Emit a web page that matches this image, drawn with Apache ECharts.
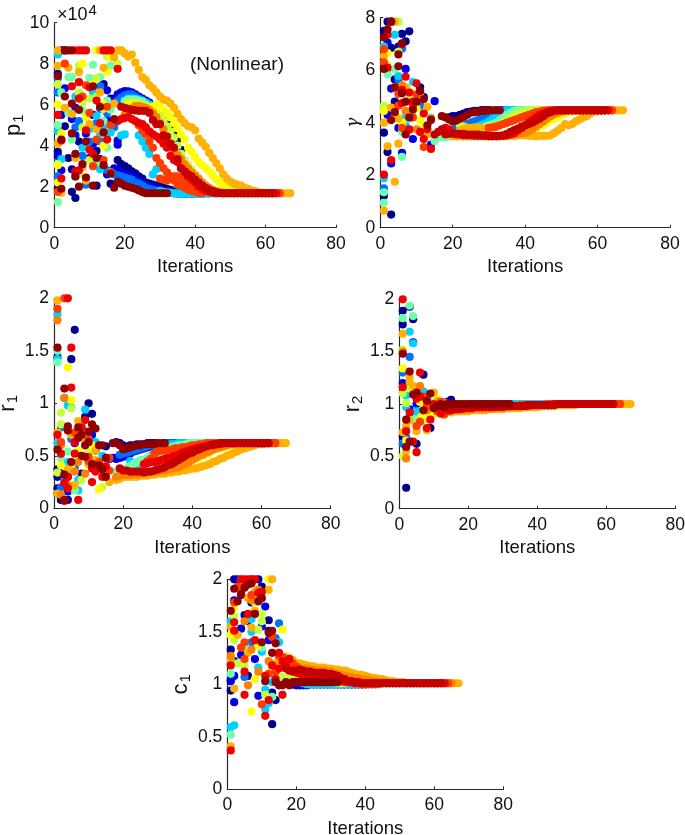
<!DOCTYPE html>
<html>
<head>
<meta charset="utf-8">
<title>Iterations</title>
<style>
html, body { margin: 0; padding: 0; background: #fff; }
#chart { width: 685px; height: 835px; }
</style>
<script src="https://cdn.jsdelivr.net/npm/echarts@6/dist/echarts.min.js"></script>
</head>
<body>
<div id="chart"></div>
<script>
// jet colours, index 11 (darkest run) is drawn on top of index 12
const jetColors = ['#00008f', '#0000e6', '#0070ff', '#00d0ff', '#70ffa8', '#c4ff3c', '#ffff00', '#ffb000', '#ff8000', '#ff3c00', '#ee0000', '#900000', '#c40000']
const xTicks = [0, 20, 40, 60, 80]

// p1: tracks are [colour, first iteration, values], points are [colour, iteration, value]
const p1Tracks = [
    [0, 18, [3.3, 3.1, 3.0, 2.9, 2.75, 2.65, 2.5, 2.4, 2.2, 2.15, 2.1, 2.05, 2.0, 1.95, 1.9, 1.85, 1.75, 1.72, 1.68, 1.68, 1.68]],
    [1, 17, [2.9, 2.8, 2.7, 2.65, 2.55, 2.5, 2.4, 2.3, 2.2, 2.1, 2.0, 1.95, 1.9, 1.85, 1.8, 1.75, 1.7, 1.68, 1.68, 1.68, 1.66, 1.66, 1.66]],
    [2, 17, [2.6, 2.55, 2.5, 2.45, 2.4, 2.35, 2.2, 2.15, 2.05, 1.95, 1.9, 1.85, 1.8, 1.78, 1.75, 1.72, 1.7, 1.68, 1.66, 1.66, 1.66, 1.66, 1.66, 1.66, 1.66, 1.66]],
    [3, 30, [1.8, 1.75, 1.72, 1.7, 1.68, 1.68, 1.66, 1.66, 1.66, 1.66, 1.66, 1.66, 1.66, 1.66, 1.66]],
    [1, 17, [6.3, 6.5, 6.6, 6.65, 6.65, 6.6, 6.5, 6.4, 6.3, 6.2, 6.1, 5.9, 5.7, 5.5, 5.2, 5.0, 4.7, 4.3, 3.8, 3.4, 3.0, 2.8, 2.6, 2.4, 2.2, 2.0, 1.9, 1.75, 1.7, 1.68]],
    [2, 18, [6.2, 6.35, 6.45, 6.5, 6.5, 6.4, 6.3, 6.2, 6.05, 5.9, 5.75, 5.5, 5.25, 5.0, 4.6, 4.2, 3.7, 3.3, 3.0, 2.8, 2.5, 2.3, 2.1, 1.9, 1.8, 1.7, 1.68]],
    [3, 20, [6.2, 6.3, 6.3, 6.3, 6.25, 6.2, 6.1, 6.0, 5.85, 5.65, 5.4, 5.1, 4.8, 4.4, 4.0, 3.6, 3.2, 2.9, 2.6, 2.4, 2.2, 2.05, 1.9, 1.8, 1.7, 1.68]],
    [4, 20, [6.15, 6.25, 6.25, 6.25, 6.2, 6.15, 6.0, 5.9, 5.75, 5.55, 5.3, 5.0, 4.7, 4.3, 3.9, 3.55, 3.2, 2.95, 2.7, 2.5, 2.3, 2.1, 1.95, 1.85, 1.75, 1.7]],
    [5, 21, [6.1, 6.1, 6.1, 6.05, 6.0, 5.95, 5.85, 5.7, 5.55, 5.4, 5.2, 4.95, 4.7, 4.4, 4.0, 3.6, 3.3, 3.05, 2.85, 2.6, 2.4, 2.2, 2.0, 1.9, 1.8, 1.72, 1.68]],
    [6, 21, [6.0, 6.0, 6.0, 5.95, 5.9, 5.85, 5.8, 5.9, 6.0, 5.9, 5.75, 5.6, 5.4, 5.1, 4.85, 4.55, 4.3, 3.9, 3.7, 3.45, 3.2, 3.05, 2.9, 2.75, 2.55, 2.35, 2.2, 2.1, 2.0, 1.9, 1.82, 1.75, 1.7, 1.68, 1.68, 1.68, 1.68]],
    [7, 19, [8.65, 8.5, 8.35, 8.45, 8.05, 7.7, 7.35, 7.2, 6.95, 6.8, 6.6, 6.4, 6.25, 6.2, 6.05, 5.85, 5.55, 5.3, 5.1, 4.95, 4.9, 4.75, 4.35, 4.15, 3.95, 3.65, 3.4, 3.15, 2.9, 2.6, 2.4, 2.25, 2.15, 2.1, 2.05, 1.95, 1.9, 1.82, 1.78, 1.72, 1.7, 1.68, 1.68, 1.68, 1.68, 1.68, 1.68, 1.68, 1.68]],
    [8, 20, [5.5, 5.6, 5.8, 5.95, 5.95, 5.9, 5.85, 5.75, 5.6, 5.4, 5.1, 4.8, 4.45, 4.1, 3.8, 3.55, 3.35, 3.1, 2.9, 2.7, 2.55, 2.4, 2.2, 2.05, 1.95, 1.85, 1.78, 1.72, 1.7, 1.68, 1.68, 1.68, 1.68, 1.68, 1.68, 1.68, 1.68, 1.68, 1.68, 1.68, 1.68, 1.68, 1.68, 1.68, 1.68]],
    [9, 30, [2.4, 2.35, 2.3, 2.4, 2.5, 2.5, 2.35, 2.25, 2.1, 2.0, 1.9, 1.85, 1.8, 1.8, 1.75, 1.72, 1.7, 1.7, 1.68, 1.68, 1.68, 1.68, 1.68, 1.68, 1.68, 1.68, 1.68, 1.68, 1.68, 1.68, 1.68, 1.68, 1.68, 1.68, 1.68]],
    [9, 24, [5.0, 4.75, 4.55, 4.2, 3.9, 3.4, 3.15, 2.9, 2.7, 2.5, 2.3, 2.1, 2.05, 1.95, 1.85, 1.8, 1.75, 1.7, 1.68]],
    [10, 18, [5.2, 5.3, 5.35, 5.4, 5.3, 5.2, 5.1, 5.05, 4.9, 4.7, 4.55, 4.45, 4.3, 4.1, 3.9, 3.5, 3.3, 3.2, 2.9, 2.7, 2.5, 2.35, 2.2, 2.0, 1.9, 1.8, 1.75, 1.7, 1.68, 1.68, 1.68, 1.68, 1.68, 1.68, 1.68, 1.68, 1.68, 1.68, 1.68, 1.68, 1.68, 1.68, 1.68, 1.68, 1.68, 1.68]],
    [12, 19, [5.9, 5.85, 5.8, 5.75, 5.72, 5.7, 5.7, 5.7, 5.6, 5.25, 5.05, 5.05, 4.5, 4.45, 4.1, 3.9, 3.35, 2.9, 2.75, 2.6, 2.5, 2.35, 2.2, 2.05, 1.95, 1.85, 1.78, 1.72, 1.7, 1.68, 1.68, 1.68, 1.68, 1.68, 1.68, 1.68, 1.68, 1.68, 1.68, 1.68, 1.68, 1.68, 1.68, 1.68]],
    [11, 18, [2.25, 2.15, 2.05, 2.0, 1.95, 1.9, 1.82, 1.74, 1.68, 1.68, 1.68, 1.68, 1.68, 1.68, 1.68]]
]
const p1Points = [
    [0, 2, 8.65], [1, 3, 8.65], [7, 1, 8.65], [11, 3, 8.65], [11, 4, 8.65], [11, 5, 8.65], [10, 7, 8.65], [10, 8, 8.65], [10, 9, 8.65], [9, 6, 8.65],
    [6, 12, 8.65], [7, 13, 8.65], [10, 14, 8.65], [10, 15, 8.65], [10, 16, 8.65], [5, 19, 8.65], [7, 18, 8.65], [5, 15, 8.35], [6, 16, 8.3], [7, 17, 8.3], [5, 18, 8.0], [10, 18, 7.75], [7, 14, 7.8], [6, 15, 7.6], [4, 16, 7.9],
    [3, 1, 8.45], [7, 1, 7.9], [9, 3, 8.0], [7, 4, 7.8], [6, 8, 8.0], [5, 7, 7.9], [4, 11, 7.95], [0, 1, 7.5], [2, 1, 7.3], [11, 1, 7.4], [4, 4, 7.35], [4, 5, 7.35], [7, 7, 7.6], [10, 7, 7.1], [4, 10, 7.3], [5, 12, 7.3], [4, 13, 7.35], [6, 11, 7.0], [2, 13, 6.9], [0, 14, 7.0],
    [5, 1, 7.0], [1, 3, 6.8], [10, 5, 6.9], [11, 3, 6.4], [4, 2, 6.6], [2, 1, 6.6], [5, 7, 6.6], [9, 9, 6.95], [10, 10, 6.85], [11, 11, 6.9], [3, 11, 6.6], [5, 12, 6.4], [7, 13, 6.6], [1, 15, 6.7], [0, 16, 6.3], [4, 15, 6.2],
    [6, 1, 6.0], [7, 3, 5.85], [11, 5, 6.05], [10, 7, 6.3], [9, 8, 6.4], [3, 6, 6.4], [1, 6, 5.85], [5, 8, 6.1], [10, 12, 6.2], [11, 13, 5.9], [2, 13, 5.8], [6, 14, 6.0], [9, 15, 5.9], [4, 16, 5.75], [7, 17, 6.05], [5, 14, 5.8],
    [10, 1, 5.5], [1, 2, 5.5], [4, 4, 5.6], [7, 5, 5.55], [1, 5, 5.3], [2, 7, 5.2], [11, 7, 5.75], [6, 9, 5.4], [9, 10, 5.6], [0, 11, 5.5], [3, 12, 5.45], [7, 10, 5.05], [10, 13, 5.1], [4, 14, 5.2], [1, 15, 5.25], [11, 17, 5.3], [9, 16, 5.0], [2, 17, 4.9],
    [4, 1, 5.0], [6, 2, 4.6], [3, 1, 4.7], [0, 3, 4.95], [11, 5, 4.6], [1, 6, 4.5], [2, 6, 4.9], [5, 8, 4.9], [1, 9, 4.6], [10, 9, 4.75], [3, 10, 4.8], [7, 12, 4.8], [11, 14, 4.65], [10, 15, 4.3], [3, 16, 4.65], [1, 18, 4.05],
    [11, 2, 4.3], [10, 2, 4.25], [7, 1, 4.1], [4, 5, 4.3], [0, 7, 4.2], [3, 9, 4.1], [11, 9, 4.2], [10, 10, 3.8], [1, 11, 4.1], [9, 12, 4.3], [2, 13, 4.2], [0, 12, 3.75], [6, 14, 4.0], [4, 15, 3.9],
    [0, 1, 3.7], [1, 1, 3.5], [3, 2, 3.35], [4, 1, 3.1], [6, 1, 3.05], [0, 4, 3.4], [7, 6, 3.4], [11, 6, 3.6], [2, 8, 3.5], [1, 10, 3.4], [5, 10, 3.3], [10, 11, 3.6], [11, 12, 3.4], [0, 13, 3.35], [9, 14, 3.3],
    [1, 2, 2.8], [0, 5, 2.85], [10, 6, 2.75], [2, 6, 2.5], [7, 8, 2.95], [11, 8, 3.1], [5, 7, 2.65], [9, 11, 3.0], [11, 14, 3.05], [3, 13, 2.85], [1, 15, 2.6], [2, 15, 2.8], [7, 16, 2.7], [11, 16, 2.65],
    [2, 1, 2.5], [6, 1, 2.2], [10, 2, 2.4], [11, 2, 1.9], [9, 1, 1.75], [7, 2, 1.7], [0, 1, 1.9], [11, 6, 2.5], [10, 7, 2.8], [11, 7, 2.0], [2, 9, 2.1], [11, 9, 2.45], [7, 9, 2.3], [0, 12, 2.05], [11, 11, 2.05], [0, 16, 2.15], [11, 17, 1.95],
    [0, 5, 1.75], [0, 6, 1.45], [4, 1, 1.25],
    [3, 19, 4.5], [3, 20, 4.55], [3, 24, 4.5], [3, 25, 4.2], [3, 26, 3.9], [3, 27, 3.6], [3, 28, 2.6], [3, 29, 2.85], [1, 18, 4.25], [2, 12, 5.1], [3, 14, 4.9], [2, 15, 5.6], [5, 10, 6.3], [4, 8, 5.7], [2, 10, 4.2], [3, 8, 3.9], [3, 11, 3.3], [4, 12, 3.2], [3, 13, 4.6],
    [0, 33, 5.0], [0, 34, 4.6], [0, 35, 4.3], [0, 36, 3.8], [0, 20, 6.65], [0, 21, 6.62]
]

// gamma
const gammaTracks = [
    [0, 19, [4.2, 4.25, 4.25, 4.3, 4.35, 4.4, 4.42, 4.45, 4.45, 4.48, 4.48, 4.48]],
    [1, 20, [3.7, 3.75, 3.8, 3.8, 3.85, 3.9, 3.95, 4.0, 4.1, 4.2, 4.3, 4.4, 4.45, 4.48, 4.48, 4.48, 4.48, 4.48]],
    [2, 19, [3.65, 3.7, 3.8, 3.85, 3.9, 3.95, 4.0, 4.05, 4.1, 4.2, 4.3, 4.4, 4.45, 4.48, 4.48, 4.48, 4.48, 4.48, 4.48, 4.48, 4.48, 4.48]],
    [3, 18, [3.5, 3.5, 3.5, 3.52, 3.55, 3.6, 3.65, 3.7, 3.78, 3.85, 3.92, 3.98, 4.05, 4.15, 4.25, 4.35, 4.42, 4.48, 4.48, 4.48, 4.48, 4.48, 4.48, 4.48, 4.48, 4.48, 4.48, 4.48]],
    [4, 16, [3.45, 3.45, 3.45, 3.48, 3.5, 3.52, 3.55, 3.55, 3.6, 3.65, 3.7, 3.75, 3.8, 3.85, 3.9, 3.95, 4.0, 4.1, 4.2, 4.3, 4.38, 4.45, 4.48, 4.48, 4.48]],
    [5, 22, [3.9, 3.85, 3.8, 3.75, 3.7, 3.7, 3.75, 3.8, 3.85, 3.85, 3.85, 3.9, 4.0, 4.1, 4.2, 4.3, 4.35, 4.4, 4.45, 4.48, 4.48, 4.48, 4.48, 4.48, 4.48]],
    [6, 34, [3.55, 3.55, 3.55, 3.55, 3.58, 3.6, 3.65, 3.7, 3.75, 3.8, 3.85, 3.9, 4.0, 4.1, 4.15, 4.2, 4.3, 4.35, 4.4, 4.42, 4.45, 4.45, 4.48, 4.48, 4.48, 4.48, 4.48, 4.48, 4.48]],
    [7, 20, [3.48, 3.48, 3.48, 3.48, 3.48, 3.48, 3.48, 3.48, 3.48, 3.48, 3.48, 3.48, 3.48, 3.48, 3.48, 3.48, 3.5, 3.5, 3.52, 3.52, 3.52, 3.5, 3.5, 3.48, 3.5, 3.5, 3.5, 3.52, 3.6, 3.7, 3.8, 3.95, 3.9, 3.95, 4.05, 4.12, 4.2, 4.25, 4.35, 4.42, 4.45, 4.45, 4.47, 4.47, 4.47, 4.47, 4.47, 4.47]],
    [7, 22, [3.7, 3.75, 3.8, 3.8, 3.82, 3.82, 3.8, 3.75]],
    [8, 36, [3.55, 3.55, 3.58, 3.6, 3.62, 3.68, 3.75, 3.85, 3.95, 4.05, 4.15, 4.25, 4.32, 4.38, 4.42, 4.45, 4.47, 4.47, 4.47, 4.47, 4.47, 4.47, 4.47, 4.47, 4.47, 4.47]],
    [9, 30, [3.8, 3.82, 3.85, 3.9, 3.95, 4.0, 4.05, 4.1, 4.15, 4.2, 4.25, 4.3, 4.35, 4.4, 4.42, 4.45, 4.47, 4.47, 4.47, 4.47, 4.47, 4.47, 4.47, 4.47, 4.47, 4.47, 4.47, 4.47, 4.47, 4.47, 4.47, 4.47, 4.47, 4.47, 4.47]],
    [10, 18, [3.8, 3.75, 3.6, 3.55, 3.55, 3.52, 3.52, 3.52, 3.5, 3.5, 3.5, 3.5, 3.48, 3.48, 3.48, 3.5, 3.5, 3.52, 3.55, 3.6, 3.7, 3.8, 3.9, 4.0, 4.1, 4.2, 4.3, 4.35, 4.4, 4.45, 4.47, 4.47, 4.47, 4.47, 4.47, 4.47, 4.47, 4.47, 4.47, 4.47, 4.47, 4.47, 4.47, 4.47, 4.47, 4.47]],
    [12, 15, [3.55, 3.65, 3.75, 3.55, 3.58, 3.58, 3.58, 3.58, 3.58, 3.55, 3.55, 3.55, 3.55, 3.52, 3.52, 3.5, 3.5, 3.5, 3.5, 3.52, 3.58, 3.65, 3.72, 3.78, 3.85, 3.9, 3.95, 4.0, 4.08, 4.15, 4.25, 4.35, 4.4, 4.45, 4.47, 4.47, 4.47, 4.47, 4.47, 4.47, 4.47, 4.47, 4.47, 4.47, 4.47, 4.47, 4.47, 4.47]],
    [11, 17, [4.25, 4.2, 4.12, 4.05, 4.08, 4.15, 4.22, 4.3, 4.38, 4.4, 4.42, 4.45, 4.45, 4.47, 4.47, 4.47, 4.47]]
]
const gammaPoints = [
    [0, 2, 7.85], [1, 3, 7.85], [7, 4, 7.85], [5, 5, 7.85], [4, 5, 7.85], [10, 3, 7.85], [11, 3, 7.85], [0, 1, 7.5], [0, 8, 7.48], [0, 6, 7.38], [3, 4, 7.35], [11, 2, 7.55], [10, 2, 7.35], [11, 1, 7.25], [0, 7, 7.1], [1, 2, 7.05], [0, 5, 6.9], [10, 6, 7.0], [11, 6, 7.02],
    [3, 1, 6.9], [0, 3, 6.85], [2, 6, 6.82], [9, 1, 6.8], [5, 5, 6.7], [6, 2, 6.65], [7, 1, 6.55], [11, 5, 6.6], [9, 1, 6.3], [5, 2, 6.2], [0, 2, 6.05], [11, 1, 6.05], [10, 2, 6.1], [4, 4, 6.05], [11, 5, 6.15], [1, 7, 6.05], [4, 2, 5.85],
    [3, 5, 5.78], [0, 4, 5.65], [2, 5, 5.62], [10, 7, 5.75], [3, 9, 5.55], [1, 3, 5.3], [11, 4, 5.35], [9, 5, 5.1], [10, 6, 5.25], [8, 6, 5.42], [7, 7, 5.35], [6, 8, 5.2], [10, 8, 5.15], [10, 10, 5.5], [0, 11, 5.35], [11, 6, 5.12], [9, 10, 5.08], [11, 11, 5.2], [6, 11, 5.0], [0, 12, 4.98], [11, 12, 4.9], [1, 15, 4.82],
    [5, 1, 4.65], [3, 1, 4.55], [0, 4, 4.8], [9, 5, 4.65], [7, 3, 4.58], [6, 1, 4.45], [10, 6, 4.75], [5, 8, 4.9], [11, 7, 4.8], [9, 9, 4.65], [10, 9, 4.8], [6, 10, 4.55], [11, 10, 4.8], [2, 11, 4.65], [7, 13, 4.6], [10, 12, 4.35],
    [1, 2, 4.3], [11, 4, 4.4], [8, 7, 4.45], [4, 8, 4.15], [6, 9, 4.45], [11, 9, 4.5], [11, 8, 4.2], [9, 9, 4.2], [5, 5, 4.2], [7, 5, 4.15], [3, 7, 4.2], [6, 11, 4.1], [7, 1, 4.0], [11, 3, 4.1], [6, 6, 4.0], [4, 14, 4.2], [9, 14, 4.15], [11, 14, 4.1],
    [1, 5, 3.8], [3, 7, 3.9], [9, 6, 3.8], [10, 8, 3.75], [0, 7, 3.7], [4, 6, 3.65], [11, 7, 3.55], [7, 8, 3.7], [8, 10, 3.75], [10, 11, 3.65], [6, 12, 3.85], [11, 13, 3.9], [10, 13, 3.75], [0, 1, 3.62], [1, 9, 3.38], [10, 12, 3.38], [7, 13, 3.55],
    [4, 15, 3.3], [1, 14, 3.17], [9, 12, 3.07], [10, 14, 3.0], [7, 2, 3.1], [7, 5, 3.2], [0, 2, 2.88], [1, 6, 2.85], [4, 6, 2.7], [1, 3, 2.45], [10, 3, 2.58], [7, 4, 1.75],
    [10, 1, 2.02], [3, 1, 1.88], [2, 1, 1.5], [0, 1, 1.22], [4, 1, 1.35], [4, 1, 0.95], [7, 1, 0.65], [0, 3, 0.5]
]

// r1
const r1Tracks = [
    [0, 18, [0.63, 0.62, 0.6, 0.58, 0.6, 0.6, 0.61, 0.61, 0.61, 0.62, 0.62, 0.62]],
    [1, 16, [0.47, 0.48, 0.48, 0.48, 0.49, 0.5, 0.52, 0.54, 0.55, 0.56, 0.57, 0.58, 0.59, 0.6, 0.61, 0.61, 0.62, 0.62, 0.62, 0.62, 0.62, 0.62]],
    [2, 19, [0.51, 0.52, 0.53, 0.54, 0.55, 0.56, 0.57, 0.58, 0.59, 0.6, 0.6, 0.61, 0.61, 0.62, 0.62, 0.62, 0.62, 0.62, 0.62, 0.62, 0.62]],
    [3, 22, [0.45, 0.43, 0.42, 0.43, 0.45, 0.47, 0.5, 0.52, 0.54, 0.56, 0.58, 0.6, 0.61, 0.61, 0.62, 0.62, 0.62, 0.62, 0.62, 0.62, 0.62, 0.62, 0.62, 0.62]],
    [4, 18, [0.35, 0.35, 0.36, 0.38, 0.4, 0.42, 0.44, 0.46, 0.46, 0.48, 0.49, 0.5, 0.52, 0.54, 0.55, 0.57, 0.58, 0.59, 0.6, 0.6, 0.61, 0.62, 0.62, 0.62, 0.62, 0.62, 0.62, 0.62]],
    [6, 32, [0.37, 0.38, 0.38, 0.39, 0.4, 0.41, 0.43, 0.44, 0.46, 0.47, 0.48, 0.5, 0.51, 0.53, 0.55, 0.56, 0.57, 0.58, 0.59, 0.6, 0.6, 0.61, 0.61, 0.62, 0.62, 0.62, 0.62, 0.62, 0.62, 0.62, 0.62]],
    [7, 18, [0.27, 0.28, 0.3, 0.3, 0.3, 0.3, 0.3, 0.31, 0.31, 0.31, 0.32, 0.32, 0.33, 0.33, 0.33, 0.34, 0.34, 0.35, 0.35, 0.36, 0.36, 0.37, 0.38, 0.38, 0.39, 0.4, 0.41, 0.42, 0.44, 0.45, 0.47, 0.48, 0.5, 0.51, 0.53, 0.54, 0.56, 0.57, 0.58, 0.59, 0.6, 0.61, 0.61, 0.62, 0.62, 0.62, 0.62, 0.62, 0.62, 0.62]],
    [8, 18, [0.3, 0.31, 0.32, 0.32, 0.32, 0.33, 0.33, 0.33, 0.34, 0.34, 0.35, 0.35, 0.35, 0.36, 0.36, 0.37, 0.38, 0.38, 0.39, 0.41, 0.42, 0.44, 0.46, 0.48, 0.5, 0.51, 0.53, 0.54, 0.56, 0.57, 0.58, 0.59, 0.6, 0.61, 0.61, 0.62, 0.62, 0.62, 0.62, 0.62, 0.62, 0.62, 0.62, 0.62, 0.62, 0.62, 0.62]],
    [9, 27, [0.45, 0.47, 0.52, 0.54, 0.55, 0.55, 0.56, 0.56, 0.57, 0.57, 0.58, 0.58, 0.59, 0.6, 0.6, 0.61, 0.61, 0.62, 0.62, 0.62, 0.62, 0.62, 0.62, 0.62, 0.62, 0.62, 0.62, 0.62, 0.62, 0.62, 0.62, 0.62, 0.62, 0.62, 0.62, 0.62, 0.62, 0.62]],
    [10, 26, [0.42, 0.43, 0.44, 0.44, 0.45, 0.46, 0.47, 0.48, 0.49, 0.5, 0.51, 0.53, 0.54, 0.55, 0.56, 0.57, 0.58, 0.58, 0.59, 0.6, 0.6, 0.61, 0.61, 0.62, 0.62, 0.62, 0.62, 0.62, 0.62, 0.62, 0.62, 0.62, 0.62, 0.62, 0.62, 0.62, 0.62]],
    [12, 19, [0.38, 0.36, 0.36, 0.35, 0.35, 0.35, 0.35, 0.34, 0.35, 0.35, 0.36, 0.37, 0.38, 0.39, 0.41, 0.42, 0.44, 0.46, 0.48, 0.5, 0.52, 0.53, 0.55, 0.56, 0.58, 0.59, 0.6, 0.61, 0.61, 0.62, 0.62, 0.62, 0.62, 0.62, 0.62, 0.62, 0.62, 0.62, 0.62, 0.62, 0.62, 0.62, 0.62, 0.62]],
    [11, 17, [0.62, 0.62, 0.6, 0.56, 0.57, 0.58, 0.59, 0.6, 0.6, 0.61, 0.61, 0.61, 0.61, 0.62, 0.62, 0.62]]
]
const r1Points = [
    [7, 1, 1.98], [9, 3, 2.0], [10, 4, 2.0], [9, 1, 1.9], [3, 1, 1.85], [8, 1, 1.79], [0, 6, 1.7], [10, 5, 1.53], [11, 1, 1.53], [4, 1, 1.5], [1, 1, 1.44], [3, 1, 1.42], [4, 1, 1.39], [0, 5, 1.42], [6, 4, 1.34],
    [11, 3, 1.14], [10, 5, 1.15], [2, 3, 1.05], [8, 3, 1.05], [6, 5, 1.03], [3, 4, 0.98], [3, 5, 0.96], [5, 5, 0.95], [0, 10, 1.0], [3, 9, 0.94], [0, 11, 0.9], [5, 2, 0.91], [0, 9, 0.87], [10, 9, 0.84], [7, 7, 0.83], [5, 2, 0.8], [2, 2, 0.77], [11, 4, 0.78], [11, 7, 0.77], [10, 8, 0.77], [11, 11, 0.8], [11, 12, 0.76], [11, 10, 0.73],
    [11, 4, 0.74], [7, 1, 0.72], [10, 1, 0.7], [7, 5, 0.7], [11, 8, 0.7], [9, 6, 0.72], [1, 11, 0.7], [2, 5, 0.66], [11, 7, 0.67], [7, 9, 0.65], [9, 2, 0.63], [3, 1, 0.62], [8, 2, 0.6], [1, 6, 0.62], [10, 6, 0.63], [9, 10, 0.66], [11, 10, 0.63], [11, 9, 0.6], [6, 11, 0.6], [3, 12, 0.63], [11, 13, 0.6], [11, 14, 0.6], [0, 15, 0.59], [1, 12, 0.55],
    [11, 1, 0.56], [10, 2, 0.52], [4, 4, 0.54], [6, 7, 0.55], [10, 6, 0.52], [11, 8, 0.5], [11, 9, 0.49], [9, 10, 0.49], [5, 10, 0.54], [7, 12, 0.55], [3, 14, 0.5], [11, 15, 0.48], [9, 16, 0.48], [0, 18, 0.47], [4, 2, 0.48],
    [6, 2, 0.41], [11, 5, 0.44], [3, 4, 0.44], [8, 7, 0.44], [7, 10, 0.42], [9, 10, 0.45], [11, 11, 0.42], [10, 11, 0.38], [7, 12, 0.46], [9, 13, 0.44], [11, 13, 0.41], [5, 5, 0.4], [2, 6, 0.38], [8, 6, 0.35], [0, 1, 0.37], [11, 3, 0.32], [5, 1, 0.34], [1, 2, 0.33], [7, 4, 0.37], [10, 4, 0.3],
    [9, 12, 0.36], [10, 12, 0.35], [0, 8, 0.33], [8, 9, 0.33], [11, 14, 0.37], [10, 15, 0.4], [9, 16, 0.36], [11, 15, 0.3], [7, 14, 0.3], [10, 14, 0.3], [1, 18, 0.28], [7, 16, 0.25],
    [0, 1, 0.3], [1, 4, 0.3], [2, 3, 0.25], [10, 3, 0.24], [8, 4, 0.22], [3, 7, 0.27], [5, 8, 0.27], [0, 1, 0.19], [2, 2, 0.2], [10, 4, 0.19], [1, 4, 0.16], [4, 6, 0.18], [7, 6, 0.22], [3, 7, 0.17], [10, 11, 0.25], [6, 13, 0.18], [5, 14, 0.2], [1, 1, 0.14], [7, 1, 0.14], [8, 2, 0.13], [0, 2, 0.08], [1, 3, 0.08], [11, 3, 0.08], [10, 3, 0.07], [0, 4, 0.08], [10, 7, 0.08], [4, 6, 0.17]
]

// r2
const r2Tracks = [
    [0, 12, [1.0, 1.01, 1.02, 1.04, 1.0, 0.98, 0.98, 0.99, 0.99, 1.0, 1.0, 1.0, 1.0, 1.0]],
    [1, 14, [0.96, 0.95, 0.95, 0.95, 0.96, 0.97, 0.98, 0.99, 0.99, 1.0, 1.0, 1.0, 1.0, 1.0, 1.0, 1.0, 1.0, 1.0, 1.0, 1.0]],
    [3, 16, [0.96, 0.96, 0.97, 0.98, 0.98, 0.99, 1.0, 1.0, 1.0, 1.0, 1.0, 1.0, 1.0, 1.0, 1.0, 1.0, 1.0, 1.0, 1.0, 1.0, 1.0, 1.0, 1.0, 1.0, 1.0, 1.0, 1.0, 1.0, 1.0, 1.0]],
    [6, 12, [0.9, 0.92, 0.93, 0.93, 0.94, 0.95, 0.96, 0.96, 0.96, 0.96, 0.96, 0.97, 0.97, 0.97, 0.97, 0.97, 0.97, 0.98, 0.98, 0.98, 0.98, 0.98, 0.98, 0.98, 0.98, 0.98, 0.98, 0.98, 0.99, 0.99, 0.99, 0.99, 0.99, 0.99, 0.99, 1.0, 1.0, 1.0, 1.0, 1.0, 1.0, 1.0, 1.0]],
    [7, 15, [0.92, 0.93, 0.93, 0.93, 0.93, 0.93, 0.94, 0.94, 0.94, 0.94, 0.94, 0.95, 0.95, 0.95, 0.95, 0.95, 0.96, 0.96, 0.96, 0.96, 0.96, 0.97, 0.97, 0.97, 0.97, 0.97, 0.98, 0.98, 0.98, 0.98, 0.98, 0.99, 0.99, 0.99, 0.99, 0.99, 0.99, 1.0, 1.0, 1.0, 1.0, 1.0, 1.0, 1.0, 1.0, 1.0, 1.0, 1.0, 1.0, 1.0, 1.0, 1.0, 1.0]],
    [8, 15, [0.94, 0.94, 0.94, 0.95, 0.95, 0.95, 0.95, 0.96, 0.96, 0.96, 0.96, 0.96, 0.96, 0.97, 0.97, 0.97, 0.97, 0.97, 0.98, 0.98, 0.98, 0.98, 0.98, 0.98, 0.99, 0.99, 0.99, 0.99, 0.99, 0.99, 1.0, 1.0, 1.0, 1.0, 1.0, 1.0, 1.0, 1.0, 1.0, 1.0, 1.0, 1.0, 1.0, 1.0, 1.0, 1.0, 1.0, 1.0, 1.0, 1.0]],
    [9, 13, [0.9, 0.93, 0.95, 0.96, 0.96, 0.96, 0.96, 0.97, 0.97, 0.97, 0.97, 0.97, 0.97, 0.98, 0.98, 0.98, 0.98, 0.98, 0.98, 0.98, 0.98, 0.98, 0.99, 0.99, 0.99, 0.99, 0.99, 0.99, 0.99, 0.99, 1.0, 1.0, 1.0, 1.0, 1.0, 1.0, 1.0, 1.0, 1.0, 1.0, 1.0, 1.0, 1.0, 1.0, 1.0, 1.0, 1.0, 1.0, 1.0, 1.0, 1.0, 1.0]],
    [10, 14, [0.94, 0.95, 0.96, 0.95, 0.95, 0.96, 0.96, 0.96, 0.97, 0.97, 0.97, 0.97, 0.97, 0.97, 0.97, 0.97, 0.97, 0.98, 0.98, 0.98, 0.98, 0.98, 0.98, 0.98, 0.99, 0.99, 0.99, 0.99, 0.99, 0.99, 0.99, 1.0, 1.0, 1.0, 1.0, 1.0, 1.0, 1.0, 1.0, 1.0, 1.0, 1.0, 1.0, 1.0, 1.0, 1.0, 1.0, 1.0, 1.0]],
    [12, 15, [0.94, 0.95, 0.96, 0.96, 0.97, 0.97, 0.97, 0.98, 0.98, 0.98, 0.98, 0.98, 0.98, 0.98, 0.98, 0.98, 0.98, 0.98, 0.98, 0.98, 0.98, 0.98, 0.99, 0.99, 0.99, 0.99, 0.99, 0.99, 0.99, 0.99, 0.99, 1.0, 1.0, 1.0, 1.0, 1.0, 1.0, 1.0, 1.0, 1.0, 1.0, 1.0, 1.0, 1.0, 1.0, 1.0, 1.0, 1.0]],
    [11, 13, [0.97, 1.0, 1.0, 1.0, 1.0, 1.0, 1.0, 1.0, 1.0, 1.0, 1.0, 1.0, 1.0, 1.0, 1.0, 1.0, 1.0, 1.0, 1.0, 1.0]]
]
const r2Points = [
    [10, 1, 2.0], [4, 3, 1.94], [0, 3, 1.93], [0, 1, 1.89], [4, 4, 1.84], [0, 4, 1.81], [4, 1, 1.82], [0, 1, 1.76], [3, 3, 1.69], [7, 1, 1.67], [1, 4, 1.59], [3, 4, 1.58], [5, 1, 1.52], [8, 1, 1.5], [11, 1, 1.48], [2, 3, 1.45],
    [6, 1, 1.34], [2, 1, 1.3], [11, 3, 1.31], [10, 6, 1.3], [0, 7, 1.28], [7, 3, 1.26], [7, 3, 1.21], [1, 1, 1.2], [10, 1, 1.16], [5, 3, 1.15], [7, 4, 1.17], [8, 6, 1.17], [3, 7, 1.12], [5, 1, 1.1], [3, 2, 1.08], [11, 4, 1.09], [11, 5, 1.11], [10, 5, 1.05], [7, 10, 1.11], [11, 9, 1.1], [11, 8, 1.03], [10, 6, 1.07], [9, 7, 1.07],
    [5, 2, 1.01], [3, 2, 0.97], [1, 5, 1.0], [6, 6, 1.02], [9, 8, 0.98], [7, 9, 0.99], [10, 3, 0.92], [1, 3, 0.95], [3, 5, 0.93], [6, 7, 0.9], [11, 7, 0.94], [0, 5, 0.9], [8, 8, 0.94], [6, 9, 0.92], [5, 6, 0.87], [4, 4, 0.86], [2, 3, 0.87], [11, 2, 0.85], [10, 9, 0.85], [7, 3, 0.84], [5, 7, 0.84], [9, 6, 0.83], [9, 5, 0.79], [7, 2, 0.79],
    [0, 9, 0.77], [10, 8, 0.77], [7, 8, 0.75], [7, 5, 0.74], [10, 2, 0.74], [7, 1, 0.73], [0, 1, 0.69], [2, 2, 0.68], [2, 1, 0.62], [1, 2, 0.64], [6, 2, 0.65], [11, 3, 0.64], [10, 4, 0.64], [0, 5, 0.62], [11, 2, 0.59], [7, 2, 0.55], [10, 5, 0.54], [5, 1, 0.5], [8, 2, 0.48], [0, 2, 0.2],
    [4, 9, 1.02], [3, 10, 0.96], [6, 11, 1.05], [7, 11, 1.03], [10, 10, 1.0], [11, 10, 0.96], [9, 11, 0.93], [5, 10, 0.9], [1, 11, 1.0], [2, 12, 1.02], [7, 12, 0.98], [10, 12, 0.91], [6, 13, 0.9], [11, 11, 0.98], [9, 12, 1.02], [8, 13, 1.01], [11, 12, 1.0], [10, 13, 0.95]
]

// c1
const c1Tracks = [
    [0, 18, [1.02, 1.0, 1.0, 1.0, 1.0, 1.0, 1.0, 1.0, 1.0, 1.0, 1.0, 1.0, 1.0, 1.0, 1.0, 1.0, 1.0, 1.0, 1.0, 1.0, 1.0, 1.0]],
    [1, 18, [1.02, 1.0, 0.99, 0.99, 0.99, 0.99, 1.0, 1.0, 1.0, 1.0, 1.0, 1.0, 1.0, 1.0, 1.0, 1.0, 1.0, 1.0, 1.0, 1.0, 1.0, 1.0, 1.0]],
    [3, 16, [1.04, 1.05, 1.05, 1.04, 1.03, 1.02, 1.01, 1.0, 1.0, 1.0, 1.0, 1.0, 1.0, 1.0, 1.0, 1.0, 1.0, 1.0, 1.0, 1.0, 1.0, 1.0, 1.0, 1.0, 1.0, 1.0, 1.0, 1.0, 1.0]],
    [5, 16, [1.07, 1.06, 1.05, 1.05, 1.05, 1.04, 1.04, 1.04, 1.04, 1.04, 1.04, 1.03, 1.03, 1.03, 1.02, 1.02, 1.01, 1.01, 1.01]],
    [7, 15, [1.25, 1.25, 1.26, 1.25, 1.23, 1.2, 1.2, 1.19, 1.18, 1.17, 1.17, 1.16, 1.16, 1.16, 1.15, 1.15, 1.14, 1.14, 1.13, 1.13, 1.12, 1.11, 1.1, 1.09, 1.09, 1.08, 1.07, 1.06, 1.06, 1.05, 1.05, 1.04, 1.03, 1.03, 1.02, 1.02, 1.02, 1.01, 1.01, 1.01, 1.01, 1.01, 1.01, 1.01, 1.01, 1.01, 1.01, 1.01, 1.01, 1.01, 1.01, 1.01, 1.01]],
    [8, 18, [1.18, 1.16, 1.16, 1.15, 1.15, 1.15, 1.14, 1.14, 1.13, 1.13, 1.13, 1.12, 1.12, 1.11, 1.1, 1.09, 1.08, 1.07, 1.07, 1.06, 1.06, 1.05, 1.04, 1.04, 1.03, 1.03, 1.02, 1.02, 1.02, 1.01, 1.01, 1.01, 1.01, 1.01, 1.01, 1.01, 1.01, 1.01, 1.01, 1.01, 1.01, 1.01, 1.01, 1.01, 1.01, 1.01, 1.01, 1.01]],
    [9, 20, [1.02, 1.02, 1.03, 1.03, 1.04, 1.04, 1.05, 1.05, 1.05, 1.05, 1.05, 1.04, 1.04, 1.03, 1.02, 1.02, 1.02, 1.01, 1.01, 1.0, 1.0, 1.0, 1.0, 1.0, 1.01, 1.01, 1.01, 1.01, 1.01, 1.01, 1.01, 1.01, 1.01, 1.01, 1.01, 1.01, 1.01, 1.01, 1.01, 1.01, 1.01, 1.01, 1.01, 1.01, 1.01]],
    [9, 15, [1.27, 1.26, 1.24, 1.22, 1.2, 1.17, 1.14, 1.12, 1.12, 1.11, 1.1]],
    [10, 16, [1.22, 1.18, 1.24, 1.12, 1.11, 1.1, 1.09, 1.09, 1.08, 1.08, 1.08, 1.07, 1.07, 1.07, 1.06, 1.05, 1.05, 1.04, 1.03, 1.02, 1.02, 1.01, 1.01, 1.01, 1.01, 1.01, 1.01, 1.01, 1.01, 1.01, 1.01, 1.01, 1.01, 1.01, 1.01, 1.01, 1.01, 1.01, 1.01, 1.01, 1.01, 1.01, 1.01, 1.01, 1.01, 1.01, 1.01, 1.01]],
    [12, 17, [1.15, 1.13, 1.13, 1.13, 1.14, 1.13, 1.12, 1.12, 1.11, 1.11, 1.11, 1.11, 1.1, 1.1, 1.09, 1.08, 1.06, 1.05, 1.03, 1.03, 1.02, 1.02, 1.01, 1.01, 1.01, 1.01, 1.01, 1.01, 1.01, 1.01, 1.01, 1.01, 1.01, 1.01, 1.01, 1.01, 1.01, 1.01, 1.01, 1.01, 1.01, 1.01, 1.01, 1.01, 1.01, 1.01]],
    [11, 15, [0.99, 0.99, 1.02, 0.99, 1.02, 1.02, 1.02, 1.02, 1.02, 1.02, 1.02, 1.02, 1.02, 1.02, 1.02, 1.02, 1.02, 1.02]]
]
const c1Points = [
    [0, 2, 2.0], [1, 3, 2.0], [8, 4, 2.0], [10, 4, 2.0], [10, 5, 2.0], [10, 6, 2.0], [9, 7, 2.0], [10, 8, 2.0], [0, 9, 2.0], [10, 7, 2.0], [6, 12, 2.0], [7, 13, 2.0], [11, 6, 1.95], [11, 7, 1.96], [9, 5, 1.93], [11, 5, 1.92], [9, 3, 1.93], [0, 10, 1.93], [7, 4, 1.9], [11, 2, 1.91], [7, 12, 1.9],
    [10, 9, 1.87], [7, 8, 1.88], [8, 9, 1.9], [10, 10, 1.88], [9, 7, 1.85], [1, 4, 1.85], [11, 4, 1.86], [7, 6, 1.82], [1, 2, 1.8], [9, 2, 1.78], [11, 3, 1.79], [8, 7, 1.8], [11, 10, 1.82], [3, 9, 1.8], [11, 9, 1.79], [0, 7, 1.78], [5, 8, 1.78], [1, 11, 1.74], [11, 1, 1.7], [6, 2, 1.73],
    [7, 8, 1.7], [10, 6, 1.67], [0, 5, 1.66], [1, 6, 1.6], [11, 8, 1.67], [5, 10, 1.67], [5, 2, 1.65], [3, 1, 1.6], [3, 7, 1.62], [10, 2, 1.59], [8, 5, 1.6], [5, 10, 1.6], [0, 12, 1.61], [2, 15, 1.58], [7, 1, 1.55], [1, 4, 1.53], [1, 10, 1.55], [7, 7, 1.54], [3, 7, 1.5], [5, 9, 1.52], [6, 16, 1.52], [11, 13, 1.51], [0, 12, 1.51], [11, 12, 1.49], [10, 2, 1.51],
    [6, 1, 1.47], [7, 3, 1.47], [5, 2, 1.42], [9, 5, 1.4], [10, 8, 1.42], [2, 7, 1.4], [4, 10, 1.35], [11, 10, 1.4], [1, 12, 1.42], [2, 14, 1.44], [11, 14, 1.39], [3, 15, 1.4], [6, 9, 1.37], [9, 13, 1.45], [9, 4, 1.35], [0, 1, 1.33], [4, 5, 1.37], [8, 7, 1.33], [7, 6, 1.3], [3, 10, 1.31], [10, 15, 1.3], [11, 13, 1.3], [4, 13, 1.3],
    [8, 1, 1.27], [7, 1, 1.24], [1, 4, 1.28], [0, 2, 1.22], [9, 5, 1.24], [1, 8, 1.24], [5, 3, 1.2], [3, 1, 1.2], [10, 1, 1.18], [5, 5, 1.18], [3, 9, 1.16], [10, 5, 1.12], [8, 9, 1.12], [4, 1, 1.1], [1, 2, 1.08], [0, 6, 1.08], [2, 5, 1.07], [10, 11, 1.08], [9, 12, 1.1], [11, 11, 1.03], [1, 14, 1.08],
    [6, 8, 1.05], [0, 1, 1.04], [1, 1, 1.03], [8, 6, 0.99], [7, 2, 0.96], [0, 1, 0.94], [10, 5, 0.9], [1, 9, 0.89], [5, 11, 0.9], [3, 11, 0.95], [0, 13, 0.92], [1, 12, 0.88], [0, 14, 0.85], [4, 13, 0.88], [10, 16, 0.9], [3, 12, 0.82], [10, 12, 0.85], [1, 2, 0.83], [9, 10, 0.81], [3, 11, 0.76], [6, 7, 0.74], [10, 11, 0.7],
    [0, 13, 0.62], [3, 2, 0.61], [3, 1, 0.59], [4, 1, 0.52], [7, 1, 0.41], [10, 1, 0.37],
    [10, 13, 1.18], [9, 14, 1.12], [7, 14, 1.2], [10, 14, 1.05], [6, 13, 1.15], [4, 14, 1.1], [3, 13, 1.02], [10, 15, 1.15], [11, 14, 1.02], [8, 12, 1.22]
]

const panels = [
    { tracks: p1Tracks, points: p1Points, left: 54.3, top: 22.7, width: 281.7, height: 205, yMax: 10, yStep: 2, name: '{i|p}{s|1}', gap: 28 },
    { tracks: gammaTracks, points: gammaPoints, left: 380.3, top: 17.7, width: 289.7, height: 210, yMax: 8, yStep: 2, name: '{g|γ}', gap: 14 },
    { tracks: r1Tracks, points: r1Points, left: 54, top: 298.3, width: 276.7, height: 210, yMax: 2, yStep: 0.5, name: '{i|r}{s|1}', gap: 34 },
    { tracks: r2Tracks, points: r2Points, left: 399.3, top: 299.3, width: 276, height: 209.4, yMax: 2, yStep: 0.5, name: '{i|r}{s|2}', gap: 34 },
    { tracks: c1Tracks, points: c1Points, left: 227.3, top: 579.3, width: 276, height: 210, yMax: 2, yStep: 0.5, name: '{i|c}{s|1}', gap: 34 }
]

const fontFamily = '"Liberation Sans", Arial, sans-serif'
const axisColor = '#2a2a2a'

// 把轨迹和散点按颜色分组
function groupByColour(panel) {
    const groups = jetColors.map(() => [])
    panel.points.forEach(([c, x, y]) => groups[c].push([x, y]))
    panel.tracks.forEach(([c, start, ys]) => ys.forEach((y, i) => groups[c].push([start + i, y])))
    return groups
}

const chart = echarts.init(document.getElementById('chart'), null, { renderer: 'canvas' })

const option = {
    animation: false,
    backgroundColor: '#fff',
    textStyle: { fontFamily },
    title: [
        { text: '×10{s|4}', left: 52, top: -2, textStyle: { fontFamily, fontSize: 18, fontWeight: 'normal', color: '#111', rich: { s: { fontSize: 15, fontFamily, color: '#111', verticalAlign: 'top', padding: [0, 0, 9, 1] } } } },
        { text: '(Nonlinear)', left: 185, top: 50, textStyle: { fontFamily, fontSize: 19, fontWeight: 'normal', color: '#111' } }
    ],
    grid: panels.map((p) => ({ left: p.left, top: p.top, width: p.width, height: p.height, outerBoundsMode: 'none' })),
    xAxis: panels.map((p, i) => ({
        type: 'value',
        gridIndex: i,
        min: 0,
        max: 80,
        interval: 20,
        name: 'Iterations',
        nameLocation: 'middle',
        nameGap: 30,
        nameTextStyle: { fontFamily, fontSize: 18.5, color: '#111' },
        axisLine: { onZero: false, lineStyle: { color: axisColor, width: 1.2 } },
        axisTick: { inside: true, length: 3, lineStyle: { color: axisColor } },
        axisLabel: { fontFamily, fontSize: 17.5, color: '#111', margin: 7, formatter: (v) => (xTicks.includes(v) ? v : '') },
        splitLine: { show: false }
    })),
    yAxis: panels.map((p, i) => ({
        type: 'value',
        gridIndex: i,
        min: 0,
        max: p.yMax,
        interval: p.yStep,
        name: p.name,
        nameLocation: 'middle',
        nameGap: p.gap,
        nameRotate: 90,
        nameTextStyle: {
            fontFamily,
            color: '#111',
            rich: {
                i: { fontSize: 22, fontFamily, color: '#111' },
                s: { fontSize: 15, fontFamily, color: '#111', padding: [9, 0, 0, 1] },
                g: { fontSize: 17, fontFamily: 'DejaVu Serif', fontStyle: 'italic', color: '#111' }
            }
        },
        axisLine: { onZero: false, lineStyle: { color: axisColor, width: 1.2 } },
        axisTick: { inside: true, length: 3, lineStyle: { color: axisColor } },
        axisLabel: { fontFamily, fontSize: 17.5, color: '#111', margin: 5 },
        splitLine: { show: false }
    })),
    series: panels.flatMap((p, i) =>
        groupByColour(p).map((data, c) => ({
            type: 'scatter',
            xAxisIndex: i,
            yAxisIndex: i,
            symbol: 'circle',
            symbolSize: 8.2,
            clip: false,
            silent: true,
            z: c === 11 ? 3 : 2,
            itemStyle: { color: jetColors[c], opacity: 1 },
            data
        }))
    )
}

chart.setOption(option)
</script>
</body>
</html>
